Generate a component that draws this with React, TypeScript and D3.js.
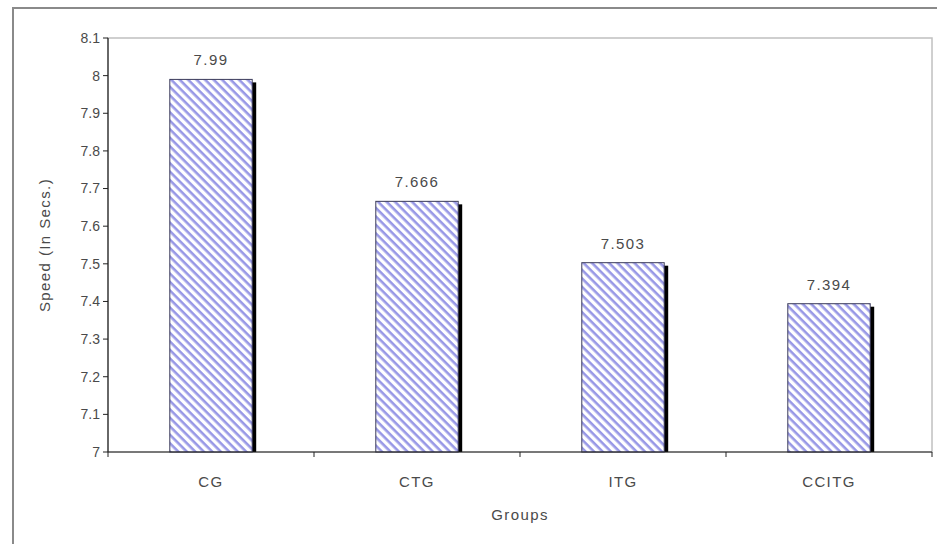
import React from "react";
import * as d3 from "d3";

const groups = ["CG", "CTG", "ITG", "CCITG"];
const speeds = [7.99, 7.666, 7.503, 7.394];
const valueLabels = ["7.99", "7.666", "7.503", "7.394"];
const yTicks = [7, 7.1, 7.2, 7.3, 7.4, 7.5, 7.6, 7.7, 7.8, 7.9, 8, 8.1];

const W = 937;
const H = 544;
const plot = { left: 108, right: 932, top: 38, bottom: 452 };
const font = "'Liberation Sans', Arial, sans-serif";
const textColor = "#4a4a4a";

export default function App() {
  const x = d3
    .scaleBand<string>()
    .domain(groups)
    .range([plot.left, plot.right])
    .paddingInner(0.6)
    .paddingOuter(0.3);

  const band = d3
    .scaleBand<string>()
    .domain(groups)
    .range([plot.left, plot.right]);

  const y = d3.scaleLinear().domain([7, 8.1]).range([plot.bottom, plot.top]);

  // category boundaries for the small x ticks
  const bounds = groups.map((g) => band(g) as number).concat([plot.right]);

  const labelStyle = { fontFamily: font, fontSize: 15, fill: textColor, letterSpacing: 1.4 };

  return (
    <svg
      width={W}
      height={H}
      style={{ position: "absolute", left: 0, top: 0, background: "#fff" }}
    >
      <defs>
        <pattern
          id="hatch"
          width={6}
          height={6}
          patternUnits="userSpaceOnUse"
          patternTransform="rotate(45)"
        >
          <rect width={6} height={6} fill="#ffffff" />
          <rect x={0} y={0} width={6} height={2.6} fill="#9898e6" />
        </pattern>
      </defs>

      {/* outer frame */}
      <rect x={13} y={8} width={940} height={560} fill="none" stroke="#8a8a8a" strokeWidth={2} />

      {/* plot area border */}
      <rect
        x={plot.left}
        y={plot.top}
        width={plot.right - plot.left}
        height={plot.bottom - plot.top}
        fill="none"
        stroke="#c0c0c0"
        strokeWidth={1.5}
      />

      {/* bars */}
      {groups.map((g, i) => {
        const bx = x(g) as number;
        const bw = x.bandwidth();
        const top = y(speeds[i]);
        return (
          <g key={g}>
            <rect x={bx + 4} y={top + 3} width={bw} height={plot.bottom - top - 3} fill="#000" />
            <rect
              x={bx}
              y={top}
              width={bw}
              height={plot.bottom - top}
              fill="url(#hatch)"
              stroke="#3a3a5a"
              strokeWidth={1}
            />
            <text x={bx + bw / 2} y={top - 14} textAnchor="middle" style={labelStyle}>
              {valueLabels[i]}
            </text>
            <text x={band(g)! + band.bandwidth() / 2} y={487} textAnchor="middle" style={labelStyle}>
              {g}
            </text>
          </g>
        );
      })}

      {/* y axis */}
      <line x1={plot.left} x2={plot.left} y1={plot.top} y2={plot.bottom} stroke="#222" strokeWidth={1.2} />
      {yTicks.map((t) => (
        <g key={t}>
          <line x1={plot.left - 5} x2={plot.left} y1={y(t)} y2={y(t)} stroke="#222" />
          <text
            x={plot.left - 8}
            y={y(t)}
            dy="0.35em"
            textAnchor="end"
            fontFamily={font}
            fontSize={14}
            fill={textColor}
          >
            {d3.format("~g")(t)}
          </text>
        </g>
      ))}

      {/* x axis */}
      <line x1={plot.left} x2={plot.right} y1={plot.bottom} y2={plot.bottom} stroke="#222" strokeWidth={1.2} />
      {bounds.map((b, i) => (
        <line key={i} x1={b} x2={b} y1={plot.bottom} y2={plot.bottom + 5} stroke="#222" />
      ))}

      <text x={(plot.left + plot.right) / 2} y={520} textAnchor="middle" style={labelStyle}>
        Groups
      </text>
      <text
        transform={`translate(50,${(plot.top + plot.bottom) / 2}) rotate(-90)`}
        textAnchor="middle"
        style={labelStyle}
      >
        Speed (In Secs.)
      </text>
    </svg>
  );
}
